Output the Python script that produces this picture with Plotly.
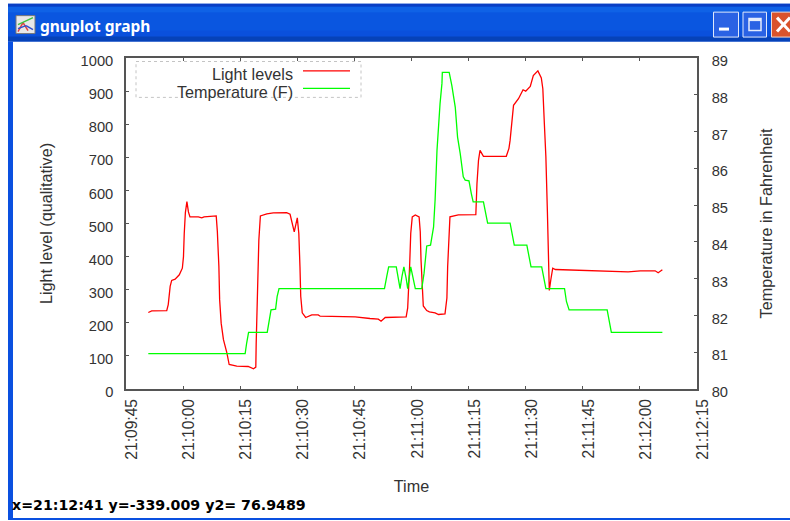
import plotly.graph_objects as go

# seconds after 21:09:45
light_t = [5.86,6.75,10.7,11.1,11.6,12.0,12.9,14.0,14.8,15.1,15.3,15.6,16.0,16.4,16.8,19.0,19.9,20.5,23.7,24.0,24.4,24.6,25.0,25.6,26.5,27.1,29.1,32.1,33.5,34.1,34.2,34.5,34.9,35.3,37.0,38.7,42.2,43.1,43.5,44.2,45.0,45.4,45.7,45.9,46.3,47.2,48.8,50.5,51.0,53.6,60.2,64.1,66.3,67.0,68.1,73.6,74.0,74.5,74.8,75.2,76.0,77.0,77.3,77.5,77.9,78.1,79.0,79.7,81.2,82.1,83.8,84.3,84.5,84.8,85.1,87.3,91.9,92.2,92.6,93.0,93.9,99.9,100.6,100.9,101.3,101.8,103.1,104.3,105.0,106.2,107.0,108.2,109.1,109.5,109.9,110.3,110.7,111.0,111.2,111.6,112.1,112.8,116.7,127.2,131.9,135.1,139.0,139.8,140.9]
light_v = [231,236,237,255,310,328,332,345,365,400,470,533,566,535,520,520,517,520,523,475,370,270,199,149,109,74,69,68,61,66,139,290,450,523,529,532,533,528,505,475,517,470,370,280,230,216,224,224,220,220,218,213,211,205,216,218,245,370,470,520,526,520,475,390,300,251,237,233,230,225,227,275,370,475,520,526,527,621,691,721,703,703,727,751,797,857,877,904,900,914,947,961,940,907,802,701,535,380,298,330,365,361,360,357,354,357,357,351,360]
temp_t = [5.86,31.3,31.7,32.2,37.1,37.6,38.1,39.3,39.7,40.2,67.9,68.5,69.0,71.0,71.5,72.0,72.5,73.0,73.6,74.0,74.8,75.5,76.0,77.7,78.3,79.0,80.0,80.8,81.2,81.7,82.1,82.5,83.0,83.1,84.9,85.6,86.5,87.1,87.8,88.6,89.1,90.1,90.7,91.2,93.9,94.5,95.0,100.9,101.5,102.0,105.3,105.8,106.4,109.2,109.7,110.3,115.2,115.7,116.4,126.4,127.5,140.9]
temp_v = [80.96,80.96,81.25,81.54,81.54,81.88,82.15,82.17,82.51,82.73,82.73,83.06,83.32,83.32,83.0,82.73,83.06,83.32,83.01,82.73,83.32,83.01,82.73,82.73,83.15,83.89,83.91,84.41,85.14,86.49,87.17,87.76,88.31,88.61,88.61,88.25,87.66,86.85,86.40,85.77,85.68,85.66,85.32,85.09,85.09,84.73,84.51,84.51,84.14,83.91,83.91,83.60,83.32,83.32,83.01,82.73,82.73,82.38,82.15,82.15,81.54,81.54]
x_ticks = [0,15,30,45,60,75,90,105,120,135,150]
x_labels = ["21:09:45","21:10:00","21:10:15","21:10:30","21:10:45","21:11:00","21:11:15","21:11:30","21:11:45","21:12:00","21:12:15"]
series_names = ["Light levels","Temperature (F)"]
status_text = "x=21:12:41 y=-339.009 y2= 76.9489"
window_title = "gnuplot graph"

W, H = 790, 521
L, R, T, B = 126, 697, 57.5, 389.5
FONT = "Liberation Sans"
AXC = "#555555"
INK = "#333333"
TITLE_SIZE = 16.2

def px(x, y):
    return (x - L) / (R - L), (B - y) / (B - T)

shapes, annots = [], []

def rect(x0, y0, x1, y1, fill, line=None, lw=1):
    a, b = px(x0, y0); c, d = px(x1, y1)
    shapes.append(dict(type="rect", xref="paper", yref="paper", x0=a, y0=b, x1=c, y1=d,
                       fillcolor=fill, line=dict(color=line or fill, width=lw if line else 0), layer="above"))

def seg(x0, y0, x1, y1, color, w=1, dash="solid"):
    a, b = px(x0, y0); c, d = px(x1, y1)
    shapes.append(dict(type="line", xref="paper", yref="paper", x0=a, y0=b, x1=c, y1=d,
                       line=dict(color=color, width=w, dash=dash), layer="above"))

def text(x, y, s, size, color=INK, anchor="left", bold=False, family=FONT):
    a, b = px(x, y)
    annots.append(dict(xref="paper", yref="paper", x=a, y=b, text=f"<b>{s}</b>" if bold else s,
                       showarrow=False, xanchor=anchor, yanchor="middle",
                       font=dict(size=size, color=color, family=family)))

# window chrome
rect(8, 3, 790, 41, "#0a50dc")
rect(8, 3, 790, 6, "#0a3fc4")
rect(8, 6, 790, 12, "#0f62e6")
rect(8, 12, 790, 30, "#0a56e0")
rect(8, 36, 790, 41, "#0642b8")
rect(8, 41, 13, 521, "#0a50e0")
rect(8, 519, 790, 521, "#0a50e0")
# title icon
rect(16, 15, 35, 33, "#e8e8e8", "#777777", 1)
seg(18, 31, 23, 22, "#e04040", 1.5); seg(23, 22, 28, 30, "#e04040", 1.5)
seg(18, 28, 26, 25, "#3050d0", 1.5); seg(26, 25, 33, 29, "#3050d0", 1.5)
seg(18, 24, 33, 17, "#40c040", 1.5)
text(38, 25, window_title, 15.5, "#ffffff", bold=True, family="Noto Sans")
# window buttons
rect(713.5, 11.5, 738.5, 36.5, "#2a62e4", "#dfe8fb", 1)
rect(719, 27, 729, 30, "#ffffff")
rect(743, 11.5, 766.5, 36.5, "#2a62e4", "#dfe8fb", 1)
rect(749, 18, 761, 30, "rgba(0,0,0,0)", "#e4ecfc", 1.5)
seg(749, 19, 761, 19, "#e4ecfc", 3)
rect(771.5, 11.5, 795, 36.5, "#d9532c", "#f0d8d0", 1)
seg(777, 17, 790, 31, "#ffffff", 3); seg(790, 17, 777, 31, "#ffffff", 3)

# legend drawn gnuplot style: label to the left of the line sample
rect(136, 61, 361, 97, "rgba(255,255,255,0)", "#c4c4c4", 1)
shapes[-1]["line"]["dash"] = "3px,3px"
text(295, 74, series_names[0], TITLE_SIZE, anchor="right")
text(295, 91.5, series_names[1], TITLE_SIZE, anchor="right")
seg(303, 70.5, 350, 70.5, "#ff0000", 1.3)
seg(303, 88, 350, 88, "#00ff00", 1.3)

# status bar
text(10, 506, status_text, 14.2, "#000000", bold=True, family="DejaVu Sans")

fig = go.Figure()
fig.add_trace(go.Scatter(x=light_t, y=light_v, name=series_names[0], mode="lines",
                         line=dict(color="#ff0000", width=1.3), yaxis="y"))
fig.add_trace(go.Scatter(x=temp_t, y=temp_v, name=series_names[1], mode="lines",
                         line=dict(color="#00ff00", width=1.3), yaxis="y2"))

title_font = dict(size=TITLE_SIZE, family=FONT, color=INK)
tick_font = dict(family=FONT, size=14.7, color=INK)
fig.update_layout(
    width=W, height=H, showlegend=False,
    margin=dict(l=L, r=W - R, t=T, b=H - B, pad=0, autoexpand=False),
    paper_bgcolor="white", plot_bgcolor="white",
    font=dict(family=FONT, color=INK),
    xaxis=dict(range=[0, 150], tickvals=x_ticks, ticktext=x_labels, tickangle=-90,
               ticks="inside", ticklen=3, tickcolor=AXC, showgrid=False, zeroline=False,
               showline=True, linecolor=AXC, linewidth=1.5, mirror="ticks",
               tickfont=dict(family=FONT, size=15.6, color=INK), ticklabelshift=6, ticklabelstandoff=2,
               title=dict(text="Time", font=title_font, standoff=22)),
    yaxis=dict(range=[0, 1000], dtick=100, ticks="inside", ticklen=3, tickcolor=AXC,
               showgrid=False, zeroline=False, showline=True, linecolor=AXC, linewidth=1.5,
               tickfont=tick_font, ticklabelshift=3, ticklabelstandoff=8,
               title=dict(text="Light level (qualitative)", font=title_font, standoff=24)),
    yaxis2=dict(range=[80, 89], dtick=1, overlaying="y", side="right", ticks="inside", ticklen=3,
                tickcolor=AXC, showgrid=False, zeroline=False, showline=True, linecolor=AXC, linewidth=1.5,
                tickfont=tick_font, ticklabelshift=3, ticklabelstandoff=10,
                title=dict(text="Temperature in Fahrenheit", font=title_font, standoff=34)),
    shapes=shapes, annotations=annots,
)
fig.write_html("out.html", post_script="document.body.style.margin='0';", config={"displayModeBar": False})
